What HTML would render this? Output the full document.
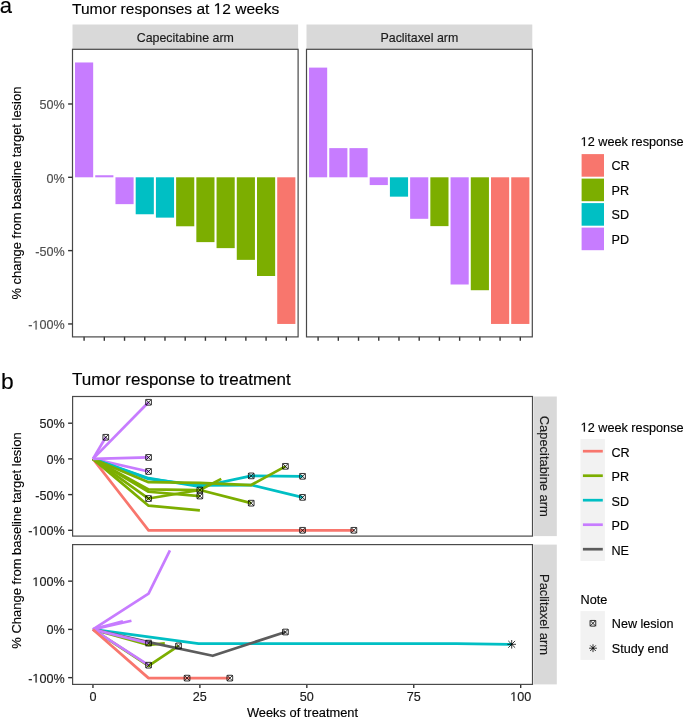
<!DOCTYPE html>
<html><head><meta charset="utf-8"><style>
html,body{margin:0;padding:0;background:#fff;}
svg{display:block;font-family:"Liberation Sans", sans-serif;will-change:transform;}
</style></head><body>
<svg width="685" height="718" viewBox="0 0 685 718">
<rect width="685" height="718" fill="#fff"/>
<text x="-0.20" y="13.10" font-size="22" fill="#000" text-anchor="start" stroke="#000" stroke-width="0.15" >a</text>
<text id="one0" x="72.10" y="14.00" font-size="15.5" fill="#000" text-anchor="start" stroke="#000" stroke-width="0.15" >Tumor responses at &#8199;2 weeks</text>
<rect x="72.50" y="24.50" width="225.60" height="24.80" fill="#D9D9D9" />
<text x="185.30" y="41.80" font-size="12.4" fill="#1A1A1A" text-anchor="middle" stroke="#1A1A1A" stroke-width="0.15" >Capecitabine arm</text>
<rect x="75.02" y="62.47" width="18.15" height="114.83" fill="#C77CFF" />
<line x1="84.10" y1="336.70" x2="84.10" y2="340.80" stroke="#333333" stroke-width="1.4" />
<rect x="95.24" y="175.25" width="18.15" height="2.05" fill="#C77CFF" />
<line x1="104.32" y1="336.70" x2="104.32" y2="340.80" stroke="#333333" stroke-width="1.4" />
<rect x="115.46" y="177.30" width="18.15" height="26.84" fill="#C77CFF" />
<line x1="124.54" y1="336.70" x2="124.54" y2="340.80" stroke="#333333" stroke-width="1.4" />
<rect x="135.69" y="177.30" width="18.15" height="36.96" fill="#00BFC4" />
<line x1="144.76" y1="336.70" x2="144.76" y2="340.80" stroke="#333333" stroke-width="1.4" />
<rect x="155.91" y="177.30" width="18.15" height="40.33" fill="#00BFC4" />
<line x1="164.98" y1="336.70" x2="164.98" y2="340.80" stroke="#333333" stroke-width="1.4" />
<rect x="176.12" y="177.30" width="18.15" height="48.98" fill="#7CAE00" />
<line x1="185.20" y1="336.70" x2="185.20" y2="340.80" stroke="#333333" stroke-width="1.4" />
<rect x="196.34" y="177.30" width="18.15" height="64.82" fill="#7CAE00" />
<line x1="205.42" y1="336.70" x2="205.42" y2="340.80" stroke="#333333" stroke-width="1.4" />
<rect x="216.56" y="177.30" width="18.15" height="70.83" fill="#7CAE00" />
<line x1="225.64" y1="336.70" x2="225.64" y2="340.80" stroke="#333333" stroke-width="1.4" />
<rect x="236.78" y="177.30" width="18.15" height="82.56" fill="#7CAE00" />
<line x1="245.86" y1="336.70" x2="245.86" y2="340.80" stroke="#333333" stroke-width="1.4" />
<rect x="257.00" y="177.30" width="18.15" height="98.70" fill="#7CAE00" />
<line x1="266.08" y1="336.70" x2="266.08" y2="340.80" stroke="#333333" stroke-width="1.4" />
<rect x="277.22" y="177.30" width="18.15" height="146.65" fill="#F8766D" />
<line x1="286.30" y1="336.70" x2="286.30" y2="340.80" stroke="#333333" stroke-width="1.4" />
<rect x="72.50" y="49.30" width="225.60" height="287.60" fill="none" stroke="#484848" stroke-width="1.2"/>
<rect x="306.50" y="24.50" width="225.80" height="24.80" fill="#D9D9D9" />
<text x="419.40" y="41.80" font-size="12.4" fill="#1A1A1A" text-anchor="middle" stroke="#1A1A1A" stroke-width="0.15" >Paclitaxel arm</text>
<rect x="309.03" y="67.61" width="18.15" height="109.69" fill="#C77CFF" />
<line x1="318.10" y1="336.70" x2="318.10" y2="340.80" stroke="#333333" stroke-width="1.4" />
<rect x="329.25" y="148.12" width="18.15" height="29.18" fill="#C77CFF" />
<line x1="338.32" y1="336.70" x2="338.32" y2="340.80" stroke="#333333" stroke-width="1.4" />
<rect x="349.47" y="148.12" width="18.15" height="29.18" fill="#C77CFF" />
<line x1="358.54" y1="336.70" x2="358.54" y2="340.80" stroke="#333333" stroke-width="1.4" />
<rect x="369.69" y="177.30" width="18.15" height="7.77" fill="#C77CFF" />
<line x1="378.76" y1="336.70" x2="378.76" y2="340.80" stroke="#333333" stroke-width="1.4" />
<rect x="389.91" y="177.30" width="18.15" height="19.36" fill="#00BFC4" />
<line x1="398.98" y1="336.70" x2="398.98" y2="340.80" stroke="#333333" stroke-width="1.4" />
<rect x="410.13" y="177.30" width="18.15" height="41.50" fill="#C77CFF" />
<line x1="419.20" y1="336.70" x2="419.20" y2="340.80" stroke="#333333" stroke-width="1.4" />
<rect x="430.35" y="177.30" width="18.15" height="48.83" fill="#7CAE00" />
<line x1="439.42" y1="336.70" x2="439.42" y2="340.80" stroke="#333333" stroke-width="1.4" />
<rect x="450.56" y="177.30" width="18.15" height="107.20" fill="#C77CFF" />
<line x1="459.64" y1="336.70" x2="459.64" y2="340.80" stroke="#333333" stroke-width="1.4" />
<rect x="470.79" y="177.30" width="18.15" height="112.92" fill="#7CAE00" />
<line x1="479.86" y1="336.70" x2="479.86" y2="340.80" stroke="#333333" stroke-width="1.4" />
<rect x="491.01" y="177.30" width="18.15" height="146.65" fill="#F8766D" />
<line x1="500.08" y1="336.70" x2="500.08" y2="340.80" stroke="#333333" stroke-width="1.4" />
<rect x="511.22" y="177.30" width="18.15" height="146.65" fill="#F8766D" />
<line x1="520.30" y1="336.70" x2="520.30" y2="340.80" stroke="#333333" stroke-width="1.4" />
<rect x="306.50" y="49.30" width="225.80" height="287.60" fill="none" stroke="#484848" stroke-width="1.2"/>
<line x1="68.10" y1="103.98" x2="72.50" y2="103.98" stroke="#333333" stroke-width="1.4" />
<text x="64.60" y="109.48" font-size="12.6" fill="#4D4D4D" text-anchor="end" stroke="#4D4D4D" stroke-width="0.15" >50%</text>
<line x1="68.10" y1="177.30" x2="72.50" y2="177.30" stroke="#333333" stroke-width="1.4" />
<text x="64.60" y="182.80" font-size="12.6" fill="#4D4D4D" text-anchor="end" stroke="#4D4D4D" stroke-width="0.15" >0%</text>
<line x1="68.10" y1="250.62" x2="72.50" y2="250.62" stroke="#333333" stroke-width="1.4" />
<text x="64.60" y="256.12" font-size="12.6" fill="#4D4D4D" text-anchor="end" stroke="#4D4D4D" stroke-width="0.15" >-50%</text>
<line x1="68.10" y1="323.95" x2="72.50" y2="323.95" stroke="#333333" stroke-width="1.4" />
<text id="one1" x="64.60" y="329.45" font-size="12.6" fill="#4D4D4D" text-anchor="end" stroke="#4D4D4D" stroke-width="0.15" >-&#8199;00%</text>
<text transform="translate(21.4,193.1) rotate(-90)" font-size="12.95" text-anchor="middle" fill="#000" stroke="#000" stroke-width="0.15">% change from baseline target lesion</text>
<text id="one2" x="580.60" y="146.00" font-size="12.7" fill="#000" text-anchor="start" stroke="#000" stroke-width="0.15" >&#8199;2 week response</text>
<rect x="581.60" y="154.10" width="22.40" height="22.60" fill="#F8766D" />
<text x="611.50" y="170.20" font-size="12.6" fill="#000" text-anchor="start" stroke="#000" stroke-width="0.15" >CR</text>
<rect x="581.60" y="178.60" width="22.40" height="22.60" fill="#7CAE00" />
<text x="611.50" y="194.70" font-size="12.6" fill="#000" text-anchor="start" stroke="#000" stroke-width="0.15" >PR</text>
<rect x="581.60" y="203.10" width="22.40" height="22.60" fill="#00BFC4" />
<text x="611.50" y="219.20" font-size="12.6" fill="#000" text-anchor="start" stroke="#000" stroke-width="0.15" >SD</text>
<rect x="581.60" y="227.60" width="22.40" height="22.60" fill="#C77CFF" />
<text x="611.50" y="243.70" font-size="12.6" fill="#000" text-anchor="start" stroke="#000" stroke-width="0.15" >PD</text>
<text x="0.90" y="388.50" font-size="22.8" fill="#000" text-anchor="start" stroke="#000" stroke-width="0.15" >b</text>
<text x="72.10" y="385.20" font-size="17" fill="#000" text-anchor="start" stroke="#000" stroke-width="0.15" >Tumor response to treatment</text>
<rect x="533.80" y="396.50" width="23.00" height="139.60" fill="#D9D9D9" />
<text transform="translate(540.2,466.30) rotate(90)" font-size="12.9" text-anchor="middle" fill="#1A1A1A" stroke="#1A1A1A" stroke-width="0.15">Capecitabine arm</text>
<line x1="68.10" y1="423.20" x2="72.60" y2="423.20" stroke="#333333" stroke-width="1.4" />
<text x="64.60" y="428.10" font-size="12.6" fill="#1A1A1A" text-anchor="end" stroke="#1A1A1A" stroke-width="0.15" >50%</text>
<line x1="68.10" y1="458.90" x2="72.60" y2="458.90" stroke="#333333" stroke-width="1.4" />
<text x="64.60" y="463.80" font-size="12.6" fill="#1A1A1A" text-anchor="end" stroke="#1A1A1A" stroke-width="0.15" >0%</text>
<line x1="68.10" y1="494.60" x2="72.60" y2="494.60" stroke="#333333" stroke-width="1.4" />
<text x="64.60" y="499.50" font-size="12.6" fill="#1A1A1A" text-anchor="end" stroke="#1A1A1A" stroke-width="0.15" >-50%</text>
<line x1="68.10" y1="530.30" x2="72.60" y2="530.30" stroke="#333333" stroke-width="1.4" />
<text id="one3" x="64.60" y="535.20" font-size="12.6" fill="#1A1A1A" text-anchor="end" stroke="#1A1A1A" stroke-width="0.15" >-&#8199;00%</text>
<rect x="533.80" y="544.60" width="23.00" height="139.80" fill="#D9D9D9" />
<text transform="translate(540.2,614.50) rotate(90)" font-size="12.9" text-anchor="middle" fill="#1A1A1A" stroke="#1A1A1A" stroke-width="0.15">Paclitaxel arm</text>
<line x1="68.10" y1="581.15" x2="72.60" y2="581.15" stroke="#333333" stroke-width="1.4" />
<text id="one4" x="64.60" y="586.05" font-size="12.6" fill="#1A1A1A" text-anchor="end" stroke="#1A1A1A" stroke-width="0.15" >&#8199;00%</text>
<line x1="68.10" y1="629.40" x2="72.60" y2="629.40" stroke="#333333" stroke-width="1.4" />
<text x="64.60" y="634.30" font-size="12.6" fill="#1A1A1A" text-anchor="end" stroke="#1A1A1A" stroke-width="0.15" >0%</text>
<line x1="68.10" y1="677.65" x2="72.60" y2="677.65" stroke="#333333" stroke-width="1.4" />
<text id="one5" x="64.60" y="682.55" font-size="12.6" fill="#1A1A1A" text-anchor="end" stroke="#1A1A1A" stroke-width="0.15" >-&#8199;00%</text>
<line x1="92.95" y1="684.30" x2="92.95" y2="688.00" stroke="#333333" stroke-width="1.4" />
<text x="92.95" y="700.90" font-size="12.6" fill="#1A1A1A" text-anchor="middle" stroke="#1A1A1A" stroke-width="0.15" >0</text>
<line x1="199.88" y1="684.30" x2="199.88" y2="688.00" stroke="#333333" stroke-width="1.4" />
<text x="199.88" y="700.90" font-size="12.6" fill="#1A1A1A" text-anchor="middle" stroke="#1A1A1A" stroke-width="0.15" >25</text>
<line x1="306.82" y1="684.30" x2="306.82" y2="688.00" stroke="#333333" stroke-width="1.4" />
<text x="306.82" y="700.90" font-size="12.6" fill="#1A1A1A" text-anchor="middle" stroke="#1A1A1A" stroke-width="0.15" >50</text>
<line x1="413.75" y1="684.30" x2="413.75" y2="688.00" stroke="#333333" stroke-width="1.4" />
<text x="413.75" y="700.90" font-size="12.6" fill="#1A1A1A" text-anchor="middle" stroke="#1A1A1A" stroke-width="0.15" >75</text>
<line x1="520.69" y1="684.30" x2="520.69" y2="688.00" stroke="#333333" stroke-width="1.4" />
<text id="one6" x="520.69" y="700.90" font-size="12.6" fill="#1A1A1A" text-anchor="middle" stroke="#1A1A1A" stroke-width="0.15" >&#8199;00</text>
<text x="302.50" y="717.10" font-size="12.85" fill="#000" text-anchor="middle" stroke="#000" stroke-width="0.15" >Weeks of treatment</text>
<text transform="translate(21.4,540.5) rotate(-90)" font-size="12.97" text-anchor="middle" fill="#000" stroke="#000" stroke-width="0.15">% Change from baseline target lesion</text>
<polyline points="92.95,458.90 148.56,530.30 353.87,530.30" fill="none" stroke="#F8766D" stroke-width="2.7" stroke-linejoin="round"/>
<polyline points="92.95,458.90 148.56,471.47" fill="none" stroke="#C77CFF" stroke-width="2.7" stroke-linejoin="round"/>
<polyline points="92.95,458.90 148.56,478.18 199.88,486.75 251.21,475.89 302.54,476.32" fill="none" stroke="#00BFC4" stroke-width="2.7" stroke-linejoin="round"/>
<polyline points="92.95,458.90 148.56,478.89 199.88,485.32 251.21,485.03 302.54,497.38" fill="none" stroke="#00BFC4" stroke-width="2.7" stroke-linejoin="round"/>
<polyline points="92.95,458.90 148.56,489.32 199.88,490.03 221.27,478.89" fill="none" stroke="#7CAE00" stroke-width="2.7" stroke-linejoin="round"/>
<polyline points="92.95,458.90 148.56,498.53 199.88,490.03 251.21,503.17" fill="none" stroke="#7CAE00" stroke-width="2.7" stroke-linejoin="round"/>
<polyline points="92.95,458.90 148.56,491.74 199.88,496.03" fill="none" stroke="#7CAE00" stroke-width="2.7" stroke-linejoin="round"/>
<polyline points="92.95,458.90 148.56,505.67 199.88,510.31" fill="none" stroke="#7CAE00" stroke-width="2.7" stroke-linejoin="round"/>
<polyline points="92.95,458.90 148.56,482.18 199.88,482.82 251.21,485.03 285.43,466.33" fill="none" stroke="#7CAE00" stroke-width="2.7" stroke-linejoin="round"/>
<polyline points="92.95,458.90 105.78,437.27" fill="none" stroke="#C77CFF" stroke-width="2.7" stroke-linejoin="round"/>
<polyline points="92.95,458.90 148.56,402.28" fill="none" stroke="#C77CFF" stroke-width="2.7" stroke-linejoin="round"/>
<polyline points="92.95,458.90 148.56,457.40" fill="none" stroke="#C77CFF" stroke-width="2.7" stroke-linejoin="round"/>
<polyline points="92.95,629.40 198.60,643.68 456.53,643.59 511.71,644.31" fill="none" stroke="#00BFC4" stroke-width="2.7" stroke-linejoin="round"/>
<polyline points="92.95,629.40 148.56,644.84 164.81,643.30" fill="none" stroke="#7CAE00" stroke-width="2.7" stroke-linejoin="round"/>
<polyline points="92.95,629.40 148.56,665.97 178.50,645.90" fill="none" stroke="#7CAE00" stroke-width="2.7" stroke-linejoin="round"/>
<polyline points="92.95,629.40 148.56,642.19 212.72,655.79 285.43,632.01" fill="none" stroke="#5C5C5C" stroke-width="2.7" stroke-linejoin="round"/>
<polyline points="92.95,629.40 148.56,593.69 169.94,550.41" fill="none" stroke="#C77CFF" stroke-width="2.7" stroke-linejoin="round"/>
<polyline points="92.95,629.40 131.45,620.72" fill="none" stroke="#C77CFF" stroke-width="2.7" stroke-linejoin="round"/>
<polyline points="92.95,629.40 122.89,621.20" fill="none" stroke="#C77CFF" stroke-width="2.7" stroke-linejoin="round"/>
<polyline points="92.95,629.40 148.56,643.10" fill="none" stroke="#C77CFF" stroke-width="2.7" stroke-linejoin="round"/>
<polyline points="92.95,629.40 148.56,665.20" fill="none" stroke="#C77CFF" stroke-width="2.7" stroke-linejoin="round"/>
<polyline points="92.95,629.40 148.56,678.13 229.83,678.13" fill="none" stroke="#F8766D" stroke-width="2.7" stroke-linejoin="round"/>
<rect x="72.60" y="396.50" width="459.90" height="139.60" fill="none" stroke="#4A4A4A" stroke-width="1.2"/>
<rect x="72.60" y="544.60" width="459.90" height="139.80" fill="none" stroke="#4A4A4A" stroke-width="1.2"/>
<rect x="102.93" y="434.42" width="5.70" height="5.70" rx="0.7" fill="none" stroke="#000" stroke-width="0.8"/>
<path d="M102.93,434.42L108.63,440.12M102.93,440.12L108.63,434.42" stroke="#000" stroke-width="0.8"/>
<rect x="145.71" y="399.43" width="5.70" height="5.70" rx="0.7" fill="none" stroke="#000" stroke-width="0.8"/>
<path d="M145.71,399.43L151.41,405.13M145.71,405.13L151.41,399.43" stroke="#000" stroke-width="0.8"/>
<rect x="145.71" y="454.55" width="5.70" height="5.70" rx="0.7" fill="none" stroke="#000" stroke-width="0.8"/>
<path d="M145.71,454.55L151.41,460.25M145.71,460.25L151.41,454.55" stroke="#000" stroke-width="0.8"/>
<rect x="145.71" y="468.62" width="5.70" height="5.70" rx="0.7" fill="none" stroke="#000" stroke-width="0.8"/>
<path d="M145.71,468.62L151.41,474.32M145.71,474.32L151.41,468.62" stroke="#000" stroke-width="0.8"/>
<rect x="145.71" y="495.68" width="5.70" height="5.70" rx="0.7" fill="none" stroke="#000" stroke-width="0.8"/>
<path d="M145.71,495.68L151.41,501.38M145.71,501.38L151.41,495.68" stroke="#000" stroke-width="0.8"/>
<rect x="197.03" y="487.18" width="5.70" height="5.70" rx="0.7" fill="none" stroke="#000" stroke-width="0.8"/>
<path d="M197.03,487.18L202.73,492.88M197.03,492.88L202.73,487.18" stroke="#000" stroke-width="0.8"/>
<rect x="197.03" y="493.18" width="5.70" height="5.70" rx="0.7" fill="none" stroke="#000" stroke-width="0.8"/>
<path d="M197.03,493.18L202.73,498.88M197.03,498.88L202.73,493.18" stroke="#000" stroke-width="0.8"/>
<rect x="248.36" y="473.04" width="5.70" height="5.70" rx="0.7" fill="none" stroke="#000" stroke-width="0.8"/>
<path d="M248.36,473.04L254.06,478.74M248.36,478.74L254.06,473.04" stroke="#000" stroke-width="0.8"/>
<rect x="299.69" y="473.47" width="5.70" height="5.70" rx="0.7" fill="none" stroke="#000" stroke-width="0.8"/>
<path d="M299.69,473.47L305.39,479.17M299.69,479.17L305.39,473.47" stroke="#000" stroke-width="0.8"/>
<rect x="299.69" y="494.53" width="5.70" height="5.70" rx="0.7" fill="none" stroke="#000" stroke-width="0.8"/>
<path d="M299.69,494.53L305.39,500.23M299.69,500.23L305.39,494.53" stroke="#000" stroke-width="0.8"/>
<rect x="282.58" y="463.48" width="5.70" height="5.70" rx="0.7" fill="none" stroke="#000" stroke-width="0.8"/>
<path d="M282.58,463.48L288.28,469.18M282.58,469.18L288.28,463.48" stroke="#000" stroke-width="0.8"/>
<rect x="248.36" y="500.32" width="5.70" height="5.70" rx="0.7" fill="none" stroke="#000" stroke-width="0.8"/>
<path d="M248.36,500.32L254.06,506.02M248.36,506.02L254.06,500.32" stroke="#000" stroke-width="0.8"/>
<rect x="299.69" y="527.45" width="5.70" height="5.70" rx="0.7" fill="none" stroke="#000" stroke-width="0.8"/>
<path d="M299.69,527.45L305.39,533.15M299.69,533.15L305.39,527.45" stroke="#000" stroke-width="0.8"/>
<rect x="351.02" y="527.45" width="5.70" height="5.70" rx="0.7" fill="none" stroke="#000" stroke-width="0.8"/>
<path d="M351.02,527.45L356.72,533.15M351.02,533.15L356.72,527.45" stroke="#000" stroke-width="0.8"/>
<rect x="145.71" y="640.25" width="5.70" height="5.70" rx="0.7" fill="none" stroke="#000" stroke-width="0.8"/>
<path d="M145.71,640.25L151.41,645.95M145.71,645.95L151.41,640.25" stroke="#000" stroke-width="0.8"/>
<rect x="145.71" y="662.35" width="5.70" height="5.70" rx="0.7" fill="none" stroke="#000" stroke-width="0.8"/>
<path d="M145.71,662.35L151.41,668.05M145.71,668.05L151.41,662.35" stroke="#000" stroke-width="0.8"/>
<rect x="175.65" y="643.05" width="5.70" height="5.70" rx="0.7" fill="none" stroke="#000" stroke-width="0.8"/>
<path d="M175.65,643.05L181.35,648.75M175.65,648.75L181.35,643.05" stroke="#000" stroke-width="0.8"/>
<rect x="184.20" y="675.28" width="5.70" height="5.70" rx="0.7" fill="none" stroke="#000" stroke-width="0.8"/>
<path d="M184.20,675.28L189.90,680.98M184.20,680.98L189.90,675.28" stroke="#000" stroke-width="0.8"/>
<rect x="226.98" y="675.28" width="5.70" height="5.70" rx="0.7" fill="none" stroke="#000" stroke-width="0.8"/>
<path d="M226.98,675.28L232.68,680.98M226.98,680.98L232.68,675.28" stroke="#000" stroke-width="0.8"/>
<rect x="282.58" y="629.16" width="5.70" height="5.70" rx="0.7" fill="none" stroke="#000" stroke-width="0.8"/>
<path d="M282.58,629.16L288.28,634.86M282.58,634.86L288.28,629.16" stroke="#000" stroke-width="0.8"/>
<path d="M507.41,644.30L516.01,644.30M511.71,640.00L511.71,648.60M508.31,640.90L515.11,647.70M508.31,647.70L515.11,640.90" stroke="#000" stroke-width="0.8"/>
<text id="one7" x="580.60" y="431.50" font-size="12.7" fill="#000" text-anchor="start" stroke="#000" stroke-width="0.15" >&#8199;2 week response</text>
<rect x="580.50" y="439.00" width="24.40" height="122.00" fill="#F2F2F2" />
<line x1="582.90" y1="451.20" x2="602.80" y2="451.20" stroke="#F8766D" stroke-width="2.7" />
<text x="611.50" y="456.70" font-size="12.6" fill="#000" text-anchor="start" stroke="#000" stroke-width="0.15" >CR</text>
<line x1="582.90" y1="475.70" x2="602.80" y2="475.70" stroke="#7CAE00" stroke-width="2.7" />
<text x="611.50" y="481.20" font-size="12.6" fill="#000" text-anchor="start" stroke="#000" stroke-width="0.15" >PR</text>
<line x1="582.90" y1="500.20" x2="602.80" y2="500.20" stroke="#00BFC4" stroke-width="2.7" />
<text x="611.50" y="505.70" font-size="12.6" fill="#000" text-anchor="start" stroke="#000" stroke-width="0.15" >SD</text>
<line x1="582.90" y1="524.70" x2="602.80" y2="524.70" stroke="#C77CFF" stroke-width="2.7" />
<text x="611.50" y="530.20" font-size="12.6" fill="#000" text-anchor="start" stroke="#000" stroke-width="0.15" >PD</text>
<line x1="582.90" y1="549.20" x2="602.80" y2="549.20" stroke="#5C5C5C" stroke-width="2.7" />
<text x="611.50" y="554.70" font-size="12.6" fill="#000" text-anchor="start" stroke="#000" stroke-width="0.15" >NE</text>
<text x="580.60" y="603.50" font-size="12.7" fill="#000" text-anchor="start" stroke="#000" stroke-width="0.15" >Note</text>
<rect x="580.50" y="611.10" width="24.40" height="48.80" fill="#F2F2F2" />
<rect x="590.05" y="620.45" width="5.70" height="5.70" rx="0.7" fill="none" stroke="#000" stroke-width="0.8"/>
<path d="M590.05,620.45L595.75,626.15M590.05,626.15L595.75,620.45" stroke="#000" stroke-width="0.8"/>
<path d="M589.10,648.20L596.90,648.20M593.00,644.30L593.00,652.10M590.20,645.40L595.80,651.00M590.20,651.00L595.80,645.40" stroke="#000" stroke-width="0.8"/>
<text x="611.80" y="628.30" font-size="12.6" fill="#000" text-anchor="start" stroke="#000" stroke-width="0.15" >New lesion</text>
<text x="611.80" y="652.50" font-size="12.6" fill="#000" text-anchor="start" stroke="#000" stroke-width="0.15" >Study end</text>
<path d="M515,0L696,0L696,1409L530,1409L197,1180L197,1010L515,1237Z" fill="#000" stroke="#000" stroke-width="19.82" transform="translate(213.663,14.000) scale(0.007568,-0.007568)"/>
<path d="M515,0L696,0L696,1409L530,1409L197,1180L197,1010L515,1237Z" fill="#4D4D4D" stroke="#4D4D4D" stroke-width="24.38" transform="translate(32.381,329.450) scale(0.006152,-0.006152)"/>
<path d="M515,0L696,0L696,1409L530,1409L197,1180L197,1010L515,1237Z" fill="#000" stroke="#000" stroke-width="24.19" transform="translate(580.600,146.000) scale(0.006201,-0.006201)"/>
<path d="M515,0L696,0L696,1409L530,1409L197,1180L197,1010L515,1237Z" fill="#1A1A1A" stroke="#1A1A1A" stroke-width="24.38" transform="translate(32.381,535.200) scale(0.006152,-0.006152)"/>
<path d="M515,0L696,0L696,1409L530,1409L197,1180L197,1010L515,1237Z" fill="#1A1A1A" stroke="#1A1A1A" stroke-width="24.38" transform="translate(32.381,586.050) scale(0.006152,-0.006152)"/>
<path d="M515,0L696,0L696,1409L530,1409L197,1180L197,1010L515,1237Z" fill="#1A1A1A" stroke="#1A1A1A" stroke-width="24.38" transform="translate(32.381,682.550) scale(0.006152,-0.006152)"/>
<path d="M515,0L696,0L696,1409L530,1409L197,1180L197,1010L515,1237Z" fill="#1A1A1A" stroke="#1A1A1A" stroke-width="24.38" transform="translate(510.182,700.900) scale(0.006152,-0.006152)"/>
<path d="M515,0L696,0L696,1409L530,1409L197,1180L197,1010L515,1237Z" fill="#000" stroke="#000" stroke-width="24.19" transform="translate(580.600,431.500) scale(0.006201,-0.006201)"/>
</svg></body></html>
